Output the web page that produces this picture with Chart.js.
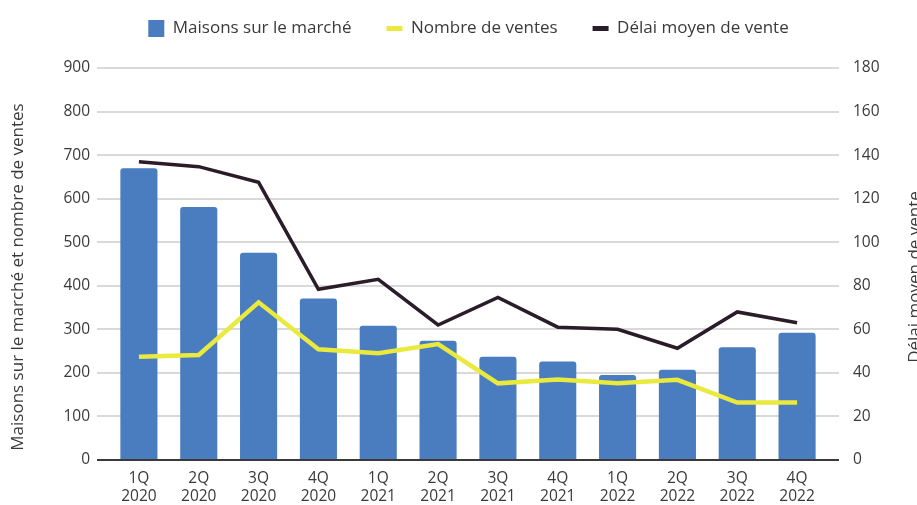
<!DOCTYPE html>
<html lang="fr">
<head>
<meta charset="utf-8">
<title>Maisons sur le marché</title>
<script src="https://cdn.jsdelivr.net/npm/chart.js@4/dist/chart.umd.min.js"></script>
<style>
  html, body { margin: 0; padding: 0; background: #fff; overflow: hidden; }
  #wrap { position: relative; width: 917px; height: 505px; }
</style>
</head>
<body>
<div id="wrap"><canvas id="chart"></canvas></div>
<script>
// ===== données =====
const quarters = ["1Q", "2Q", "3Q", "4Q", "1Q", "2Q", "3Q", "4Q", "1Q", "2Q", "3Q", "4Q"];
const years = ["2020", "2020", "2020", "2020", "2021", "2021", "2021", "2021", "2022", "2022", "2022", "2022"];
const maisons = [670, 581, 476, 371, 308, 274, 237, 226, 195, 207, 259, 292];
const ventes = [237, 241, 362, 254, 245, 266, 176, 185, 176, 184, 132, 132];
const delai = [137, 134.7, 127.5, 78.4, 83, 62, 74.7, 61, 60, 51.3, 68, 63];

const leftTicks = { min: 0, max: 900, step: 100 };
const rightTicks = { min: 0, max: 180, step: 20 };

const leftTitle = "Maisons sur le marché et nombre de ventes";
const rightTitle = "Délai moyen de vente";

// ===== couleurs =====
const BLUE = "#4a7cc0";
const YELLOW = "#e9e93e";
const DARK = "#2b1c2a";
const GRID = "#d9d9d9";
const ZERO = "#3a3a3a";
const TEXT = "#3a3a3a";
const FONT = "'Open Sans', sans-serif";

const labels = quarters.map((q, i) => [q, years[i]]);

// titres d'axes (tournés vers le haut des deux côtés)
const axisTitles = {
  id: "axisTitles",
  afterLayout(chart) {
    // remonter la légende vers le haut du cadre
    chart.legend.top -= 21;
    chart.legend.bottom -= 21;
  },
  afterDraw(chart) {
    const ctx = chart.ctx;
    const midY = 277;
    ctx.save();
    ctx.fillStyle = TEXT;
    ctx.font = "17px " + FONT;
    ctx.textAlign = "center";
    ctx.textBaseline = "middle";
    ctx.translate(18, midY);
    ctx.rotate(-Math.PI / 2);
    ctx.fillText(leftTitle, 0, 0);
    ctx.restore();

    // le titre de droite est coupé par le bord, comme sur l'original
    ctx.save();
    ctx.fillStyle = TEXT;
    ctx.font = "17px " + FONT;
    ctx.textAlign = "center";
    ctx.textBaseline = "middle";
    ctx.translate(915, midY);
    ctx.rotate(-Math.PI / 2);
    ctx.fillText(rightTitle, 0, 0);
    ctx.restore();
  }
};

function gridColor(c) {
  return c.tick && c.tick.value === 0 ? ZERO : GRID;
}

new Chart(document.getElementById("chart"), {
  data: {
    labels: labels,
    datasets: [
      {
        type: "bar",
        label: "Maisons sur le marché",
        data: maisons,
        backgroundColor: BLUE,
        borderWidth: 0,
        borderRadius: 3,
        borderSkipped: "bottom",
        barPercentage: 0.62,
        categoryPercentage: 1,
        yAxisID: "y",
        order: 2
      },
      {
        type: "line",
        label: "Nombre de ventes",
        data: ventes,
        borderColor: YELLOW,
        backgroundColor: YELLOW,
        borderWidth: 4.5,
        pointRadius: 0,
        tension: 0,
        yAxisID: "y",
        order: 1
      },
      {
        type: "line",
        label: "Délai moyen de vente",
        data: delai,
        borderColor: DARK,
        backgroundColor: DARK,
        borderWidth: 3.5,
        pointRadius: 0,
        tension: 0,
        yAxisID: "y1",
        order: 0
      }
    ]
  },
  options: {
    responsive: true,
    maintainAspectRatio: false,
    animation: false,
    layout: { padding: { left: 20, right: 0, top: 0, bottom: 0 } },
    plugins: {
      tooltip: { enabled: false },
      legend: {
        position: "top",
        labels: {
          color: TEXT,
          font: { family: FONT, size: 17 },
          usePointStyle: true,
          pointStyleWidth: 16,
          padding: 35,
          generateLabels(chart) {
            const items = Chart.defaults.plugins.legend.labels.generateLabels(chart);
            items.sort((a, b) => a.datasetIndex - b.datasetIndex);
            items.forEach(it => {
              const ds = chart.data.datasets[it.datasetIndex];
              if (ds.type === "bar") {
                it.pointStyle = "rect";
                it.lineWidth = 0;
                it.strokeStyle = BLUE;
              } else {
                it.pointStyle = "line";
                it.lineWidth = 5;
                it.strokeStyle = ds.borderColor;
              }
            });
            return items;
          }
        }
      }
    },
    scales: {
      x: {
        grid: { display: false, drawTicks: false },
        border: { display: false },
        ticks: {
          color: TEXT,
          font: { family: FONT, size: 15.5 },
          padding: 9,
          maxRotation: 0,
          autoSkip: false
        },
        afterFit(scale) { scale.height = 45; }
      },
      y: {
        position: "left",
        min: leftTicks.min,
        max: leftTicks.max,
        grid: {
          color: gridColor,
          tickColor: gridColor,
          lineWidth: 2,
          drawTicks: true,
          tickLength: 12
        },
        border: { display: false },
        ticks: {
          stepSize: leftTicks.step,
          color: TEXT,
          font: { family: FONT, size: 15.5 },
          padding: 7
        },
        afterFit(scale) {
          scale.width = 89;
          scale.paddingTop = 68;
        }
      },
      y1: {
        position: "right",
        min: rightTicks.min,
        max: rightTicks.max,
        grid: {
          drawOnChartArea: false,
          color: gridColor,
          tickColor: gridColor,
          lineWidth: 2,
          drawTicks: true,
          tickLength: 12
        },
        border: { display: false },
        ticks: {
          stepSize: rightTicks.step,
          color: TEXT,
          font: { family: FONT, size: 15.5 },
          padding: 14
        },
        afterFit(scale) { scale.width = 90; }
      }
    }
  },
  plugins: [axisTitles]
});
</script>
</body>
</html>
